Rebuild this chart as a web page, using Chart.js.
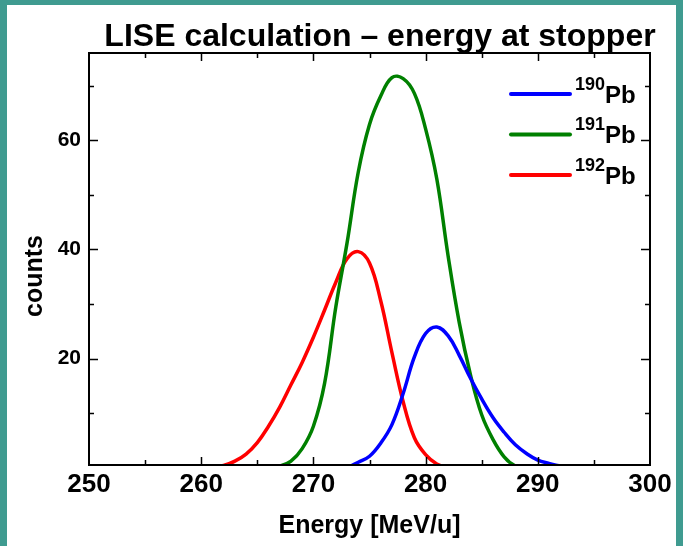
<!DOCTYPE html>
<html>
<head>
<meta charset="utf-8">
<title>LISE calculation – energy at stopper</title>
<script src="https://cdn.jsdelivr.net/npm/chart.js@4/dist/chart.umd.min.js"></script>
<style>
  html, body { margin: 0; padding: 0; background: #3f9b90; }
  #wrap { position: relative; width: 683px; height: 546px; }
</style>
</head>
<body>
<div id="wrap"><canvas id="energy-chart" width="683" height="546"></canvas></div>
<script>
// LISE energy distributions at the stopper, one curve per isotope
const energy190 = [273, 274, 275, 276, 277, 278, 279, 280, 281, 282, 283, 284, 285, 286, 287, 288, 289, 290, 291, 292, 293];
const counts190 = [0, 1.0, 2.1, 4.5, 7.9, 13.6, 20.3, 24.6, 25.8, 24.2, 20.6, 16.4, 12.6, 9.2, 6.5, 4.2, 2.6, 1.4, 0.8, 0.3, 0];

const energy191 = [266, 267, 268, 269, 270, 271, 272, 273, 274, 275, 276, 277, 278, 279, 280, 281, 282, 283, 284, 285, 286, 287, 288, 289];
const counts191 = [0, 0.3, 1.2, 3.5, 7.6, 15.5, 29.5, 41.2, 54.2, 62.9, 68.1, 71.5, 71.3, 68.6, 62.1, 52.9, 38.9, 26.6, 17.0, 9.7, 5.2, 2.0, 0.3, 0];

const energy192 = [261, 262, 263, 264, 265, 266, 267, 268, 269, 270, 271, 272, 273, 274, 275, 276, 277, 278, 279, 280, 281, 282, 283];
const counts192 = [0, 0.4, 1.2, 2.5, 4.6, 7.6, 11.1, 15.2, 19.3, 23.9, 28.9, 34.0, 38.3, 39.6, 37.5, 30.6, 21.1, 12.1, 5.5, 2.4, 0.7, 0.1, 0];

const isotopes = ['190', '191', '192'];
const element = 'Pb';
const lineColors = ['#0000ff', '#008000', '#ff0000'];

const xTickValues = [250, 260, 270, 280, 290, 300];
const yTickValues = [20, 40, 60];

const chartTitle = 'LISE calculation \u2013 energy at stopper';
const FONT = "'Liberation Sans', Arial, Helvetica, sans-serif";

const toPoints = (xs, ys) => xs.map((x, i) => ({ x, y: ys[i] }));

const series = [
	toPoints(energy190, counts190),
	toPoints(energy191, counts191),
	toPoints(energy192, counts192),
];

// slide background: teal edge around a white panel
const backdrop = {
	id: 'backdrop',
	beforeDraw(chart) {
		const { ctx, width, height } = chart;
		ctx.save();
		ctx.fillStyle = '#3f9b90';
		ctx.fillRect(0, 0, width, height);
		ctx.fillStyle = '#ffffff';
		ctx.fillRect(7, 5, width - 14, height - 5);
		ctx.restore();
	},
};

// closed frame with inward major/minor ticks on all four sides
const frame = {
	id: 'frame',
	afterDatasetsDraw(chart) {
		const { ctx, chartArea: a, scales } = chart;
		ctx.save();
		ctx.strokeStyle = '#000';
		ctx.lineWidth = 1.5;
		ctx.beginPath();
		for (let v = 255; v < 300; v += 5) {
			const px = Math.round(scales.x.getPixelForValue(v)) + 0.5;
			const len = v % 10 === 0 ? 8 : 5;
			ctx.moveTo(px, a.bottom);
			ctx.lineTo(px, a.bottom - len);
			ctx.moveTo(px, a.top);
			ctx.lineTo(px, a.top + len);
		}
		for (let v = 10; v <= 70; v += 10) {
			const py = Math.round(scales.y.getPixelForValue(v)) + 0.5;
			const len = v % 20 === 0 ? 9 : 5;
			ctx.moveTo(a.left, py);
			ctx.lineTo(a.left + len, py);
			ctx.moveTo(a.right, py);
			ctx.lineTo(a.right - len, py);
		}
		ctx.stroke();
		ctx.lineWidth = 2;
		ctx.strokeRect(a.left, a.top, a.right - a.left, a.bottom - a.top);
		ctx.restore();
	},
};

// title, y-axis label and isotope legend with superscript mass numbers
const annotations = {
	id: 'annotations',
	afterDraw(chart) {
		const { ctx } = chart;
		ctx.save();
		ctx.fillStyle = '#000';

		ctx.font = `bold 32px ${FONT}`;
		ctx.textAlign = 'center';
		ctx.textBaseline = 'alphabetic';
		ctx.fillText(chartTitle, 380, 46);

		ctx.save();
		ctx.translate(42, 276);
		ctx.rotate(-Math.PI / 2);
		ctx.font = `bold 25px ${FONT}`;
		ctx.fillText('counts', 0, 0);
		ctx.restore();

		ctx.textAlign = 'left';
		chart.data.datasets.forEach((ds, i) => {
			const y = 94 + i * 40.5;
			ctx.strokeStyle = ds.borderColor;
			ctx.lineWidth = 4;
			ctx.lineCap = 'round';
			ctx.beginPath();
			ctx.moveTo(511, y);
			ctx.lineTo(570, y);
			ctx.stroke();

			ctx.font = `bold 18px ${FONT}`;
			ctx.fillText(ds.mass, 575, y - 4.5);
			const w = ctx.measureText(ds.mass).width;
			ctx.font = `bold 24px ${FONT}`;
			ctx.fillText(ds.element, 575 + w, y + 8.7);
		});
		ctx.restore();
	},
};

new Chart(document.getElementById('energy-chart'), {
	type: 'line',
	data: {
		datasets: series.map((points, i) => ({
			label: isotopes[i] + element,
			mass: isotopes[i],
			element,
			data: points,
			borderColor: lineColors[i],
			borderWidth: 3.5,
			pointRadius: 0,
			fill: false,
			tension: 0.4,
			clip: 0,
		})),
	},
	options: {
		responsive: false,
		animation: false,
		devicePixelRatio: 1,
		layout: {
			padding: { top: 53, right: 33, left: 0, bottom: 0 },
		},
		plugins: {
			legend: { display: false },
			tooltip: { enabled: false },
		},
		scales: {
			x: {
				type: 'linear',
				min: 250,
				max: 300,
				afterBuildTicks: (scale) => {
					scale.ticks = xTickValues.map((value) => ({ value }));
				},
				afterFit: (scale) => {
					scale.height = 81;
				},
				grid: { display: false, drawTicks: false },
				border: { display: false },
				ticks: {
					color: '#000',
					padding: 4,
					maxRotation: 0,
					autoSkip: false,
					font: { family: FONT, size: 26, weight: 'bold' },
				},
				title: {
					display: true,
					text: 'Energy [MeV/u]',
					color: '#000',
					padding: { top: 0, bottom: 5 },
					font: { family: FONT, size: 25, weight: 'bold' },
				},
			},
			y: {
				type: 'linear',
				min: 0.5,
				max: 76,
				afterBuildTicks: (scale) => {
					scale.ticks = yTickValues.map((value) => ({ value }));
				},
				afterFit: (scale) => {
					scale.width = 89;
				},
				grid: { display: false, drawTicks: false },
				border: { display: false },
				ticks: {
					color: '#000',
					padding: 8,
					font: { family: FONT, size: 21, weight: 'bold' },
				},
			},
		},
	},
	plugins: [backdrop, frame, annotations],
});
</script>
</body>
</html>
